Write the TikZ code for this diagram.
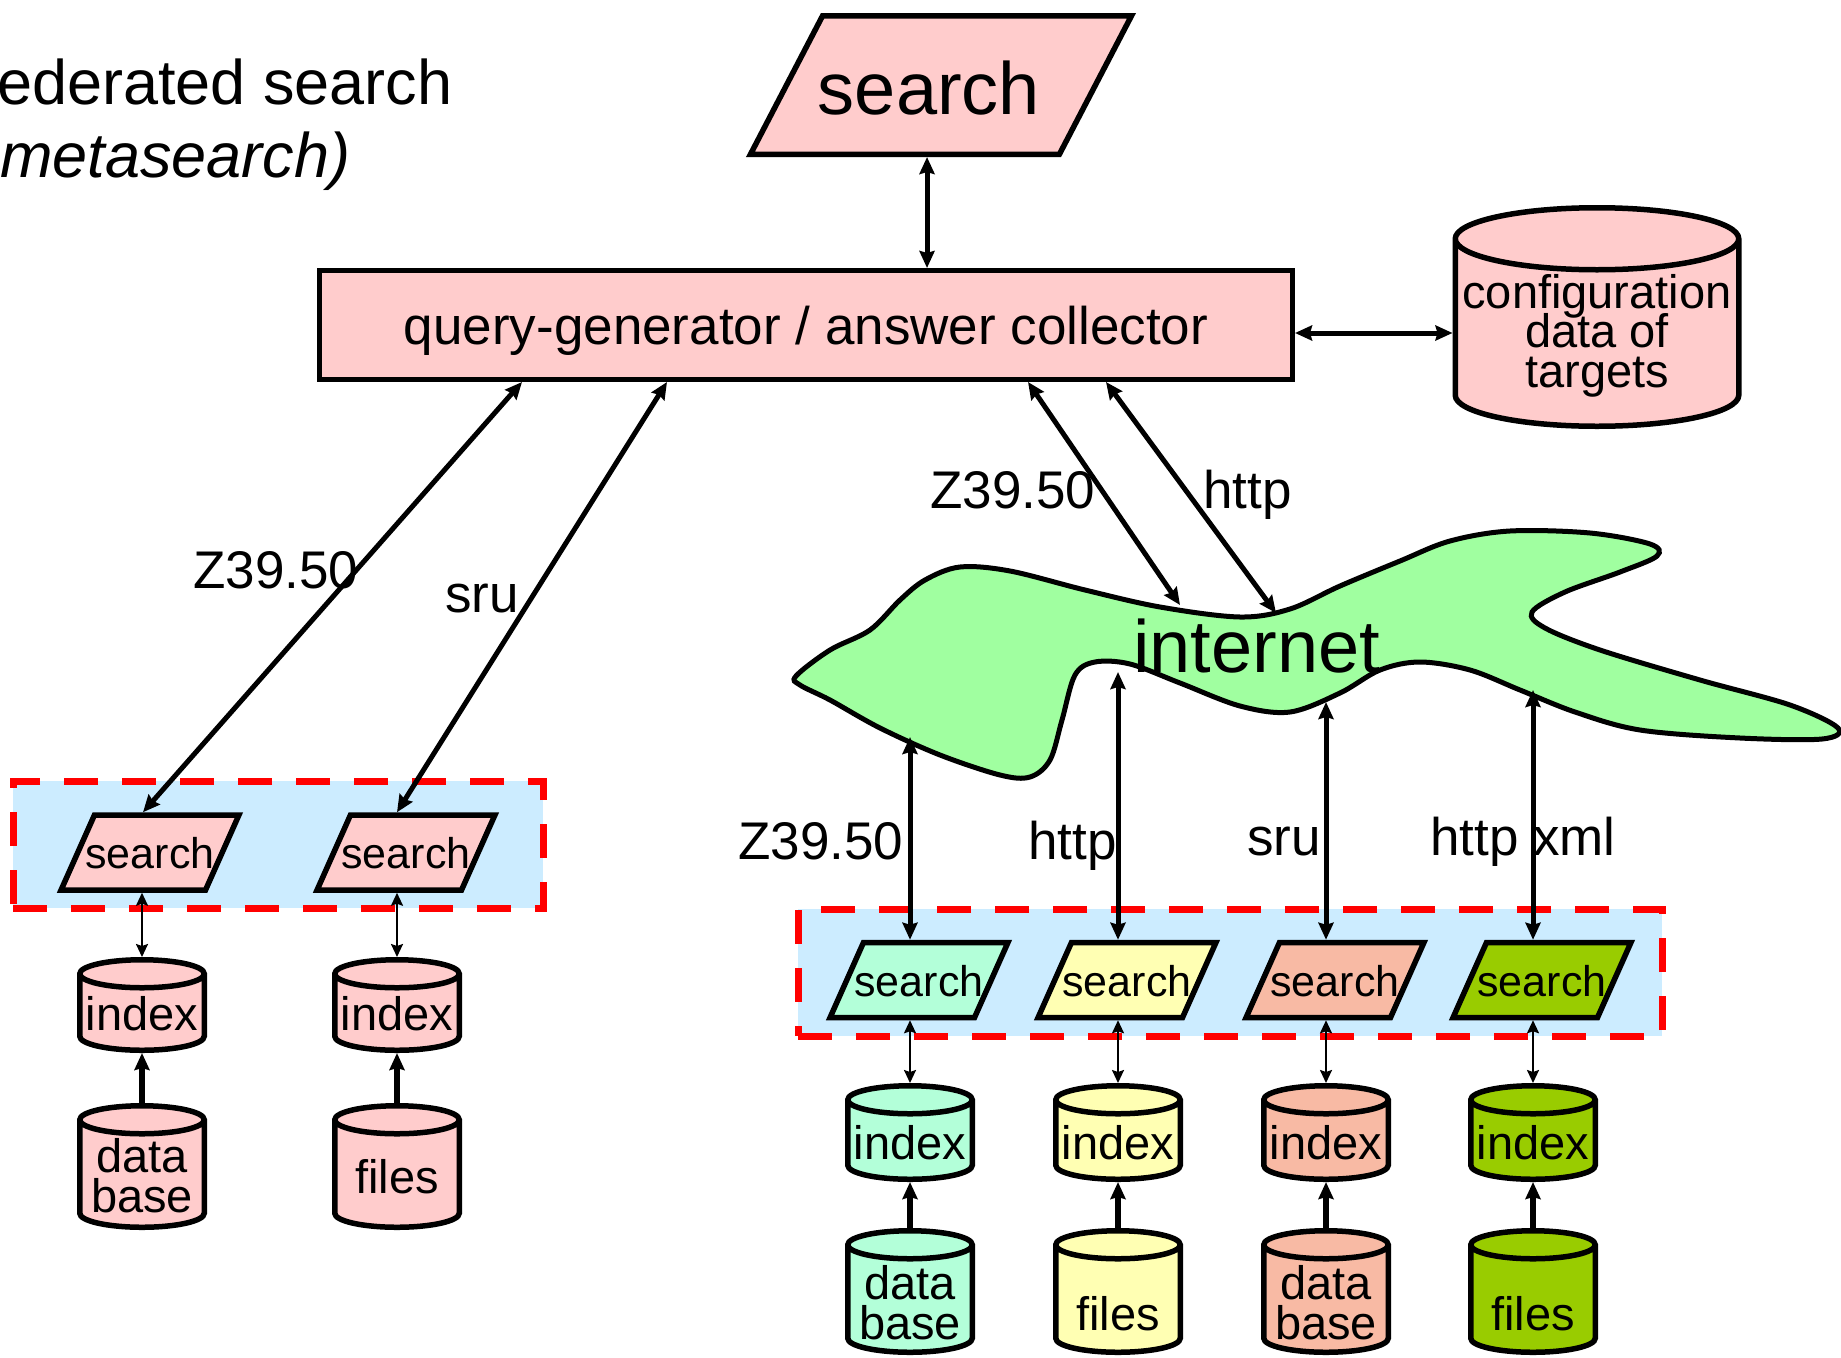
\documentclass[tikz,border=0pt]{standalone}
\usepackage{fontspec}
\setmainfont{Liberation Sans}
\usepackage{tikz}
\usetikzlibrary{shapes.geometric,arrows.meta,calc,positioning}
\definecolor{pinkc}{RGB}{255,204,204}
\definecolor{bluebg}{RGB}{204,236,255}
\definecolor{netgreen}{RGB}{160,255,160}
\definecolor{mintc}{RGB}{179,255,217}
\definecolor{yellowc}{RGB}{255,255,179}
\definecolor{salmonc}{RGB}{248,186,164}
\definecolor{olivec}{RGB}{153,204,0}
\lineskiplimit=-100pt
% can outline round an empty node #1, text #5 moved down by #6
\newcommand\dbcan[6]{%
	\draw[fill=#2,line width=5.5pt]
		($(#1.north west)+(2.75,2.75+#4)$) -- ($(#1.south west)+(2.75,-2.75-#4)$)
		arc[start angle=180,end angle=360,x radius=#3pt,y radius=#4pt]
		-- ($(#1.north east)+(-2.75,2.75+#4)$)
		arc[start angle=0,end angle=180,x radius=#3pt,y radius=#4pt] -- cycle
		($(#1.north west)+(2.75,2.75+#4)$)
		arc[start angle=180,end angle=360,x radius=#3pt,y radius=#4pt];
	\node[cantext] (#1t) at ($(#1.center)+(0,#6)$) {#5};
}

\begin{document}
\begin{tikzpicture}[x=1pt,y=-1pt,>={Stealth[length=17pt,width=15pt,inset=2pt]},
	link/.style={<->,line width=5pt},
	thinlink/.style={<->,line width=2pt,>={Stealth[length=13pt,width=12pt,inset=2pt]}},
	feed/.style={->,line width=5.5pt},
	srch/.style={trapezium,trapezium left angle=66,trapezium right angle=114,trapezium stretches body=true,draw,line width=5.5pt,inner ysep=0pt,inner xsep=-9pt,text height=53.5pt,text depth=21.5pt,minimum width=176.5pt,font=\fontsize{43}{43}\selectfont},
	canbox/.style={inner sep=0pt,outer sep=0pt,minimum width=130pt},
	cantext/.style={inner sep=0pt,align=center,font=\fontsize{47}{39.5}\selectfont},
	grp/.style={draw=red,fill=bluebg,line width=7pt,dash pattern=on 34pt off 24pt},
	lbl/.style={anchor=base west,inner sep=0pt,font=\fontsize{53}{53}\selectfont}]
		\useasboundingbox (0,0) rectangle (1841,1357);

		\node[anchor=base west,inner sep=0pt,font=\fontsize{63}{63}\selectfont] (ttl) at (-3,104) {ederated search};
		\node[anchor=base west,inner sep=0pt,font=\fontsize{63}{63}\selectfont\itshape] (ttl2) at (0,177) {metasearch)};

		\node[srch,fill=pinkc,trapezium left angle=62.5,trapezium right angle=117.5,inner xsep=0pt,text height=98.25pt,text depth=40.25pt,minimum width=381pt,font=\fontsize{74}{74}\selectfont] (usr) at (941,85) {\hspace*{-24pt}search};
		\node[draw,fill=pinkc,line width=5pt,minimum width=973pt,minimum height=109pt,text depth=0pt,font=\fontsize{53}{53}\selectfont] (qgen) at (806,325) {query-generator / answer collector};
		\node[canbox,minimum width=289pt,minimum height=224pt] (conf) at (1597,317) {};
		\dbcan{conf}{pinkc}{141.75}{31}{configuration\\data of\\targets}{18.5}

		% internet cloud
		\draw[line width=5pt,fill=netgreen] plot[smooth cycle,tension=0.55] coordinates {
			(796,676) (830,650) (870,630) (900,600) (925,580) (960,567) (1010,571) (1085,590)
			(1160,607) (1240,617) (1290,609) (1340,586) (1400,561) (1450,541) (1510,531) (1590,533)
			(1650,544) (1657,556) (1620,572) (1565,592) (1532,612) (1545,628) (1600,650) (1700,680)
			(1790,705) (1838,728) (1822,739) (1740,738) (1640,730) (1575,712) (1520,690) (1470,670)
			(1420,662) (1380,670) (1340,693) (1290,712) (1240,706) (1180,683) (1130,664) (1095,662)
			(1075,675) (1062,720) (1050,760) (1030,777) (1000,775) (940,755) (880,728) (830,700) (800,685)};
		\node[anchor=base west,inner sep=0pt,font=\fontsize{74}{74}\selectfont] (net) at (1133,672) {internet};
		\coordinate (netA) at (1180,605);
		\coordinate (netB) at (1276,613);
		\coordinate (netC) at (910,737);
		\coordinate (netD) at (1118,672);
		\coordinate (netE) at (1326,702);
		\coordinate (netF) at (1533,690);

		% local targets
		\node[grp,minimum width=530pt,minimum height=127pt] (lgrp) at (278,844.5) {};
		\node[srch,fill=pinkc] (ls1) at (150,852.5) {search};
		\node[srch,fill=pinkc] (ls2) at (406,852.5) {search};
		\node[canbox,minimum height=96pt] (li1) at (142,1005) {};
		\dbcan{li1}{pinkc}{62.25}{14}{index}{9}
		\node[canbox,minimum height=96pt] (li2) at (397,1005) {};
		\dbcan{li2}{pinkc}{62.25}{14}{index}{9}
		\node[canbox,minimum height=127pt] (ld1) at (142,1166.5) {};
		\dbcan{ld1}{pinkc}{62.25}{14}{data\\base}{9}
		\node[canbox,minimum height=127pt] (ld2) at (397,1166.5) {};
		\dbcan{ld2}{pinkc}{62.25}{14}{files}{10}

		% remote targets
		\node[grp,minimum width=864pt,minimum height=127pt] (rgrp) at (1230,972.5) {};
		\node[srch,fill=mintc] (rs1) at (919,980) {search};
		\node[srch,fill=yellowc] (rs2) at (1127,980) {search};
		\node[srch,fill=salmonc] (rs3) at (1335,980) {search};
		\node[srch,fill=olivec] (rs4) at (1542,980) {search};
		\node[canbox,minimum height=99pt] (ri1) at (910,1132.5) {};
		\dbcan{ri1}{mintc}{62.25}{14}{index}{10}
		\node[canbox,minimum height=99pt] (ri2) at (1118,1132.5) {};
		\dbcan{ri2}{yellowc}{62.25}{14}{index}{10}
		\node[canbox,minimum height=99pt] (ri3) at (1326,1132.5) {};
		\dbcan{ri3}{salmonc}{62.25}{14}{index}{10}
		\node[canbox,minimum height=99pt] (ri4) at (1533,1132.5) {};
		\dbcan{ri4}{olivec}{62.25}{14}{index}{10}
		\node[canbox,minimum height=127pt] (rd1) at (910,1291.5) {};
		\dbcan{rd1}{mintc}{62.25}{14}{data\\base}{11}
		\node[canbox,minimum height=127pt] (rd2) at (1118,1291.5) {};
		\dbcan{rd2}{yellowc}{62.25}{14}{files}{22}
		\node[canbox,minimum height=127pt] (rd3) at (1326,1291.5) {};
		\dbcan{rd3}{salmonc}{62.25}{14}{data\\base}{11}
		\node[canbox,minimum height=127pt] (rd4) at (1533,1291.5) {};
		\dbcan{rd4}{olivec}{62.25}{14}{files}{22}

		\draw[link] ([xshift=-14pt]usr.south) -- ([xshift=-14pt]usr.south |- qgen.north);
		\draw[link] ([yshift=-8pt]qgen.east) -- ([yshift=-8pt]qgen.east -| conf.west);

		\draw[link] ([xshift=-284pt]qgen.south) -- ([xshift=-7pt]ls1.north);
		\draw[link] ([xshift=-139pt]qgen.south) -- ([xshift=-9pt]ls2.north);
		\draw[link] ([xshift=222pt]qgen.south) -- (netA);
		\draw[link] ([xshift=300pt]qgen.south) -- (netB);

		\draw[link] (netC) -- (netC |- rs1.north);
		\draw[link] (netD) -- (netD |- rs2.north);
		\draw[link] (netE) -- (netE |- rs3.north);
		\draw[link] (netF) -- (netF |- rs4.north);

		\draw[thinlink] (ls1.south -| li1.north) -- (li1.north);
		\draw[thinlink] (ls2.south -| li2.north) -- (li2.north);
		\draw[thinlink] (rs1.south -| ri1.north) -- (ri1.north);
		\draw[thinlink] (rs2.south -| ri2.north) -- (ri2.north);
		\draw[thinlink] (rs3.south -| ri3.north) -- (ri3.north);
		\draw[thinlink] (rs4.south -| ri4.north) -- (ri4.north);

		\draw[feed] (ld1.north) -- (li1.south);
		\draw[feed] (ld2.north) -- (li2.south);
		\draw[feed] (rd1.north) -- (ri1.south);
		\draw[feed] (rd2.north) -- (ri2.south);
		\draw[feed] (rd3.north) -- (ri3.south);
		\draw[feed] (rd4.north) -- (ri4.south);

		\node[lbl] (zl) at (193,588) {Z39.50};
		\node[lbl] (sl) at (445,612) {sru};
		\node[lbl] (zm) at (930,508) {Z39.50};
		\node[lbl] (hm) at (1203,508) {http};
		\node[lbl] (zb) at (738,859) {Z39.50};
		\node[lbl] (hb) at (1028,859) {http};
		\node[lbl] (sb) at (1247,855) {sru};
		\node[lbl] (hx) at (1430,855) {http xml};
\end{tikzpicture}
\end{document}
